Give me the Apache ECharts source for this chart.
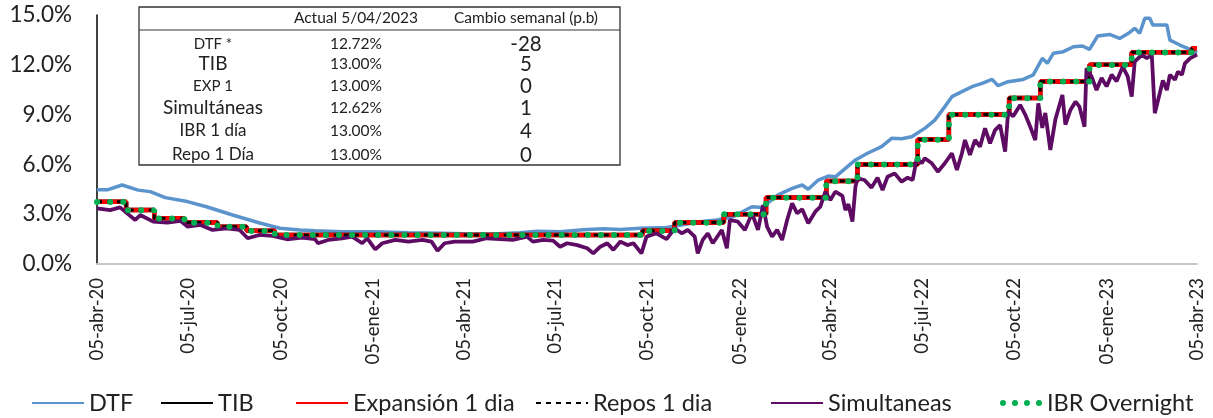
<!DOCTYPE html>
<html>
<head>
<meta charset="utf-8">
<script src="https://cdn.jsdelivr.net/npm/echarts@6.0.0/dist/echarts.min.js"></script>
<style>
  html, body { margin: 0; padding: 0; background: #fff; }
  #chart { width: 1213px; height: 418px; }
</style>
</head>
<body>
<div id="chart"></div>
<script>
// ---- datos ----
const tickDates = ['2020-04-05', '2020-07-05', '2020-10-05', '2021-01-05', '2021-04-05', '2021-07-05', '2021-10-05',
  '2022-01-05', '2022-04-05', '2022-07-05', '2022-10-05', '2023-01-05', '2023-04-05'];
const tickLabels = ['05-abr-20', '05-jul-20', '05-oct-20', '05-ene-21', '05-abr-21', '05-jul-21', '05-oct-21',
  '05-ene-22', '05-abr-22', '05-jul-22', '05-oct-22', '05-ene-23', '05-abr-23'];

// DTF (semanal)
const dtfDates = ['2020-04-05', '2020-04-16', '2020-04-30', '2020-05-16', '2020-05-28', '2020-06-12', '2020-07-04',
  '2020-07-23', '2020-08-18', '2020-09-14', '2020-10-04', '2020-10-24', '2020-11-08', '2020-12-05', '2021-01-07',
  '2021-02-09', '2021-03-14', '2021-04-06', '2021-05-04', '2021-05-31', '2021-06-17', '2021-07-10', '2021-08-02',
  '2021-08-22', '2021-09-08', '2021-09-28', '2021-10-24', '2021-11-26', '2021-12-13', '2021-12-29', '2022-01-17',
  '2022-01-27', '2022-02-12', '2022-02-26', '2022-03-08', '2022-03-14', '2022-03-24', '2022-04-03', '2022-04-10',
  '2022-04-20', '2022-04-30', '2022-05-12', '2022-05-26', '2022-06-05', '2022-06-15', '2022-06-25', '2022-07-08',
  '2022-07-18', '2022-07-28', '2022-08-04', '2022-08-14', '2022-08-24', '2022-09-03', '2022-09-13', '2022-09-19',
  '2022-09-29', '2022-10-14', '2022-10-24', '2022-11-02', '2022-11-07', '2022-11-13', '2022-11-23', '2022-12-03',
  '2022-12-12', '2022-12-19', '2022-12-27', '2023-01-08', '2023-01-18', '2023-01-28', '2023-02-02', '2023-02-07',
  '2023-02-12', '2023-02-17', '2023-02-20', '2023-03-06', '2023-03-09', '2023-03-19', '2023-03-29', '2023-04-05'];
const dtfValues = [4.48, 4.48, 4.76, 4.45, 4.36, 4.0, 3.76, 3.45, 2.95, 2.47, 2.15, 2.05, 2.0, 1.95, 1.95,
  1.89, 1.85, 1.82, 1.81, 1.89, 1.97, 1.95, 2.07, 2.12, 2.08, 2.15, 2.2, 2.55, 2.65, 2.85, 3.45,
  3.41, 4.16, 4.56, 4.76, 4.5, 5.06, 5.3, 5.25, 5.76, 6.27, 6.67, 7.07, 7.57, 7.55, 7.67, 8.17,
  8.67, 9.48, 10.08, 10.38, 10.68, 10.88, 11.12, 10.74, 10.98, 11.12, 11.39, 12.39, 12.09, 12.69, 12.79, 13.09,
  13.13, 12.93, 13.73, 13.83, 13.59, 13.95, 14.2, 13.9, 14.8, 14.8, 14.4, 14.4, 13.49, 13.19, 12.93, 12.72];

// tasas que cambian por escalones (TIB, expansión, repos, IBR)
const stepDates = ['2020-04-05', '2020-05-04', '2020-06-01', '2020-07-01', '2020-08-03', '2020-09-01', '2020-09-29',
  '2021-09-30', '2021-11-01', '2021-12-20', '2022-01-31', '2022-04-01', '2022-05-02', '2022-07-01', '2022-08-01',
  '2022-09-30', '2022-10-31', '2022-12-19', '2023-01-30', '2023-03-31', '2023-04-05'];
const tibValues = [3.75, 3.25, 2.75, 2.5, 2.25, 2.0, 1.75, 2.0, 2.5, 3.0, 4.0, 5.0, 6.0, 7.5, 9.0, 10.0, 11.0, 12.0, 12.75, 13.0, 13.0];
const expValues = [3.75, 3.25, 2.75, 2.5, 2.25, 2.0, 1.75, 2.0, 2.5, 3.0, 4.0, 5.0, 6.0, 7.5, 9.0, 10.0, 11.0, 12.0, 12.75, 13.0, 13.0];
const repoValues = [3.75, 3.25, 2.75, 2.5, 2.25, 2.0, 1.75, 2.0, 2.5, 3.0, 4.0, 5.0, 6.0, 7.5, 9.0, 10.0, 11.0, 12.0, 12.75, 13.0, 13.0];
const ibrValues = [3.74, 3.24, 2.74, 2.49, 2.24, 1.99, 1.74, 1.99, 2.49, 2.99, 3.99, 4.99, 5.99, 7.49, 8.99, 9.99, 10.99, 11.99, 12.74, 12.98, 12.98];

// Simultáneas (diaria, muy ruidosa)
const simDates = ['2020-04-05', '2020-04-18', '2020-04-28', '2020-05-05', '2020-05-13', '2020-05-18', '2020-05-31',
  '2020-06-14', '2020-06-27', '2020-07-04', '2020-07-17', '2020-07-29', '2020-08-12', '2020-08-25', '2020-09-02',
  '2020-09-14', '2020-09-27', '2020-10-11', '2020-10-26', '2020-11-08', '2020-11-11', '2020-11-21', '2020-12-05',
  '2020-12-15', '2020-12-25', '2020-12-30',
  '2021-01-07', '2021-01-14', '2021-01-27', '2021-02-09', '2021-02-23', '2021-03-04', '2021-03-10', '2021-03-17',
  '2021-03-27', '2021-04-14', '2021-04-28', '2021-05-11', '2021-05-24', '2021-06-07', '2021-06-13', '2021-06-23',
  '2021-07-03', '2021-07-10', '2021-07-17', '2021-07-27', '2021-08-06', '2021-08-12', '2021-08-19', '2021-08-26',
  '2021-09-01', '2021-09-08', '2021-09-15', '2021-09-21', '2021-09-29', '2021-10-04', '2021-10-14', '2021-10-24',
  '2021-11-01', '2021-11-08', '2021-11-14', '2021-11-21', '2021-11-24', '2021-11-29', '2021-12-04', '2021-12-09',
  '2021-12-18', '2021-12-23', '2021-12-26',
  '2022-01-03', '2022-01-10', '2022-01-17', '2022-01-23', '2022-01-28', '2022-02-01', '2022-02-06', '2022-02-11',
  '2022-02-16', '2022-02-21', '2022-02-26', '2022-03-03', '2022-03-08', '2022-03-14', '2022-03-21', '2022-03-26',
  '2022-03-31', '2022-04-05', '2022-04-10', '2022-04-17', '2022-04-20', '2022-04-23', '2022-04-27', '2022-04-30',
  '2022-05-02', '2022-05-09', '2022-05-16', '2022-05-22', '2022-05-27', '2022-06-01', '2022-06-08', '2022-06-15',
  '2022-06-21', '2022-06-26', '2022-06-30', '2022-07-05', '2022-07-08', '2022-07-15', '2022-07-21', '2022-07-28',
  '2022-08-04', '2022-08-09', '2022-08-14', '2022-08-17', '2022-08-22', '2022-08-27', '2022-09-01', '2022-09-06',
  '2022-09-11', '2022-09-16', '2022-09-21', '2022-09-26', '2022-09-29', '2022-10-04', '2022-10-11', '2022-10-16',
  '2022-10-21', '2022-10-26', '2022-10-29', '2022-11-02', '2022-11-05', '2022-11-10', '2022-11-15', '2022-11-22',
  '2022-11-25', '2022-11-30', '2022-12-05', '2022-12-09', '2022-12-14', '2022-12-16', '2022-12-21', '2022-12-26',
  '2022-12-31',
  '2023-01-05', '2023-01-10', '2023-01-15', '2023-01-21', '2023-01-26', '2023-01-30', '2023-02-02', '2023-02-09',
  '2023-02-14', '2023-02-19', '2023-02-22', '2023-02-27', '2023-03-02', '2023-03-06', '2023-03-09', '2023-03-14',
  '2023-03-17', '2023-03-21', '2023-03-24', '2023-03-29', '2023-04-05'];
const simValues = [3.35, 3.25, 3.41, 3.05, 2.65, 2.95, 2.55, 2.49, 2.6, 2.25, 2.35, 2.05, 2.15, 2.05, 1.55,
  1.75, 1.69, 1.49, 1.59, 1.5, 1.25, 1.45, 1.55, 1.65, 1.25, 1.55,
  0.88, 1.25, 1.45, 1.35, 1.45, 1.35, 0.8, 1.25, 1.35, 1.35, 1.55, 1.5, 1.45, 1.65, 1.35, 1.45,
  1.41, 1.04, 1.25, 1.14, 0.95, 0.64, 1.04, 1.25, 0.85, 1.35, 1.14, 1.25, 0.64, 1.65, 1.85, 1.5,
  2.15, 1.85, 2.05, 1.65, 0.64, 1.45, 1.85, 1.25, 2.05, 0.95, 2.65,
  2.55, 2.05, 3.05, 2.05, 3.55, 2.25, 1.65, 2.05, 1.45, 2.65, 3.65, 3.05, 3.3, 2.45, 3.15, 3.45,
  4.36, 3.86, 4.36, 4.1, 3.25, 3.6, 2.55, 4.66, 5.16, 5.06, 4.6, 5.2, 4.46, 5.26, 5.46, 4.96,
  5.2, 5.06, 6.37, 6.07, 6.37, 6.07, 5.56, 6.07, 6.67, 5.66, 6.67, 7.47, 6.57, 7.47, 7.07, 8.17,
  7.27, 8.07, 8.37, 6.77, 9.18, 8.9, 9.58, 9.0, 8.27, 7.47, 9.68, 8.2, 9.1, 6.87, 8.7, 10.18,
  8.4, 9.28, 9.78, 9.48, 8.27, 11.79, 11.3, 10.48, 11.2,
  10.7, 11.4, 11.0, 11.89, 11.3, 10.08, 12.19, 12.59, 12.4, 12.59, 9.08, 10.3, 11.06, 10.48, 11.4, 11.1,
  11.58, 11.4, 12.09, 12.39, 12.62];

// tabla superior
const tableHeader = ['Actual 5/04/2023', 'Cambio semanal (p.b)'];
const tableRows = ['DTF *', 'TIB', 'EXP 1', 'Simultáneas', 'IBR 1 día', 'Repo 1 Día'];
const tableActual = ['12.72%', '13.00%', '13.00%', '12.62%', '13.00%', '13.00%'];
const tableChange = ['-28', '5', '0', '1', '4', '0'];

const legendNames = ['DTF', 'TIB', 'Expansión 1 dia', 'Repos 1 dia', 'Simultaneas', 'IBR Overnight'];

// ---- armado del gráfico ----
const FONT = 'Lato';
const TXT = '#222';

function toTime(s) {
  const p = s.split('-').map(Number);
  return Date.UTC(p[0], p[1] - 1, p[2]);
}
function pairs(dates, values) {
  return dates.map((d, i) => [toTime(d), values[i]]);
}
const tickTimes = tickDates.map(toTime);

const chartDom = document.getElementById('chart');
const myChart = echarts.init(chartDom);

// tabla dibujada con graphic
const tLeft = 139, tTop = 7, tW = 481, tH = 158;
const colLabel = 213, colActual = 356, colChange = 526;
const rowY = [44, 64, 86, 108, 131, 155];
const labelSize = [15, 19, 15, 19, 17, 17];

function txt(text, x, y, size) {
  return {
    type: 'text', x: x, y: y, z: 100,
    style: {
      text: text, fill: TXT, font: size + 'px ' + FONT,
      align: 'center', verticalAlign: 'middle',
      textAlign: 'center', textVerticalAlign: 'middle'
    }
  };
}

const graphics = [
  { type: 'rect', z: 90, shape: { x: tLeft, y: tTop, width: tW, height: tH },
    style: { fill: '#fff', stroke: '#333', lineWidth: 1.3 } },
  { type: 'line', z: 95, shape: { x1: tLeft, y1: 30, x2: tLeft + tW, y2: 30 },
    style: { stroke: '#333', lineWidth: 1 } },
  txt(tableHeader[0], colActual, 18, 15.5),
  txt(tableHeader[1], colChange, 18, 15.5)
];
tableRows.forEach((name, i) => {
  graphics.push(txt(name, colLabel, rowY[i], labelSize[i]));
  graphics.push(txt(tableActual[i], colActual, rowY[i], 15.5));
  graphics.push(txt(tableChange[i], colChange, rowY[i], 20.5));
});

// leyenda: un componente por serie para fijar su posición
const legendLeft = [31, 160, 295, 535, 770, 1000];
const dotsIcon = 'path://M0,3a3,3 0 1,0 6,0a3,3 0 1,0 -6,0M12,3a3,3 0 1,0 6,0a3,3 0 1,0 -6,0' +
  'M24,3a3,3 0 1,0 6,0a3,3 0 1,0 -6,0M36,3a3,3 0 1,0 6,0a3,3 0 1,0 -6,0';

const legends = legendNames.map((n, i) => {
  const lg = {
    data: [n],
    left: legendLeft[i],
    top: 391,
    padding: 0,
    itemWidth: 52,
    itemHeight: 14,
    itemGap: 6,
    itemStyle: { opacity: 0 },
    textStyle: { fontFamily: FONT, fontSize: 23.5, color: TXT }
  };
  if (n === 'IBR Overnight') {
    lg.icon = dotsIcon;
    lg.itemWidth = 42;
    lg.itemHeight = 6;
    lg.itemStyle = { opacity: 1, color: '#00B050' };
    lg.lineStyle = { opacity: 0 };
  }
  return lg;
});

const option = {
  backgroundColor: '#fff',
  animation: false,
  textStyle: { fontFamily: FONT },
  grid: { left: 97, right: 16, top: 15, bottom: 154, containLabel: false },
  legend: legends,
  xAxis: {
    type: 'value',
    min: toTime('2020-04-05'),
    max: toTime('2023-04-05'),
    axisLine: { show: true, onZero: true, lineStyle: { color: '#c8c8c8', width: 2 } },
    axisTick: { show: false },
    splitLine: { show: false },
    axisLabel: {
      customValues: tickTimes,
      rotate: 90,
      margin: 14,
      fontSize: 18.5,
      fontFamily: FONT,
      color: TXT,
      formatter: function (val) {
        let best = -1, bestDiff = Infinity;
        tickTimes.forEach((t, i) => {
          const d = Math.abs(t - val);
          if (d < bestDiff) { bestDiff = d; best = i; }
        });
        return bestDiff < 86400000 * 2 ? tickLabels[best] : '';
      }
    }
  },
  yAxis: {
    type: 'value',
    min: 0,
    max: 15,
    interval: 3,
    axisLine: { show: true, lineStyle: { color: '#000', width: 1.5 } },
    axisTick: { show: false },
    splitLine: { show: false },
    axisLabel: {
      margin: 25,
      fontSize: 22.5,
      fontFamily: FONT,
      color: TXT,
      formatter: v => v.toFixed(1) + '%'
    }
  },
  series: [
    {
      name: 'DTF', type: 'line', symbol: 'none', showSymbol: false,
      data: pairs(dtfDates, dtfValues),
      lineStyle: { color: '#5B93CC', width: 3.5 },
      itemStyle: { color: '#5B93CC' }
    },
    {
      name: 'TIB', type: 'line', step: 'end', symbol: 'none', showSymbol: false,
      data: pairs(stepDates, tibValues),
      lineStyle: { color: '#000', width: 4.5 },
      itemStyle: { color: '#000' }
    },
    {
      name: 'Expansión 1 dia', type: 'line', step: 'end', symbol: 'none', showSymbol: false,
      data: pairs(stepDates, expValues),
      lineStyle: { color: '#FF0000', width: 4.5 },
      itemStyle: { color: '#FF0000' }
    },
    {
      name: 'Repos 1 dia', type: 'line', step: 'end', symbol: 'none', showSymbol: false,
      data: pairs(stepDates, repoValues),
      lineStyle: { color: '#000', width: 3, type: [5, 5] },
      itemStyle: { color: '#000' }
    },
    {
      name: 'Simultaneas', type: 'line', symbol: 'none', showSymbol: false,
      data: pairs(simDates, simValues),
      lineStyle: { color: '#5E0B63', width: 3.8 },
      itemStyle: { color: '#5E0B63' }
    },
    {
      name: 'IBR Overnight', type: 'line', step: 'end', symbol: 'none', showSymbol: false,
      data: pairs(stepDates, ibrValues),
      lineStyle: { color: '#00B050', width: 6, type: [0.1, 13], cap: 'round' },
      itemStyle: { color: '#00B050' }
    }
  ],
  graphic: graphics
};

myChart.setOption(option);
</script>
</body>
</html>
